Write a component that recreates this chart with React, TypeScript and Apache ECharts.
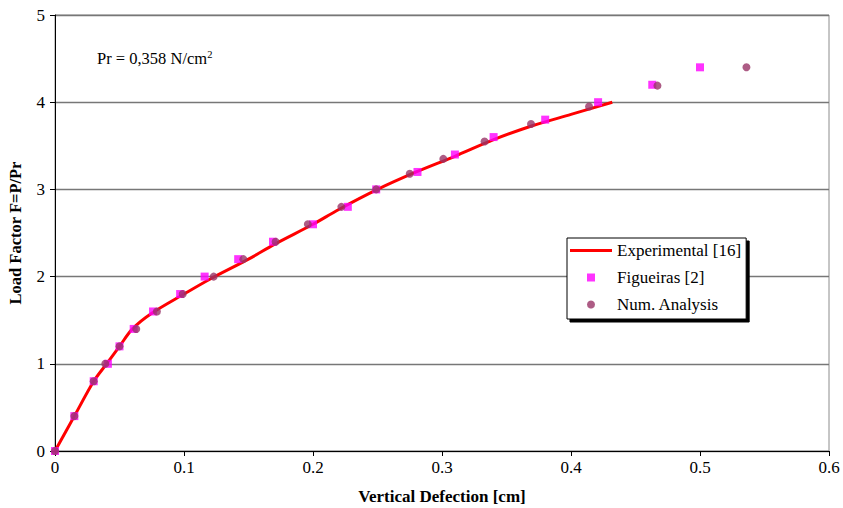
import React, { useEffect, useRef } from "react";
import * as echarts from "echarts";

const expX = [0, 0.015, 0.03, 0.04, 0.05, 0.06, 0.075, 0.1, 0.12, 0.15, 0.17, 0.2, 0.22, 0.25, 0.28, 0.31, 0.34, 0.37, 0.4, 0.432];
const expY = [0, 0.4, 0.8, 1.0, 1.2, 1.4, 1.58, 1.8, 1.97, 2.2, 2.37, 2.6, 2.77, 3.0, 3.2, 3.38, 3.57, 3.73, 3.86, 4.0];

const figX = [0, 0.015, 0.03, 0.041, 0.05, 0.061, 0.076, 0.097, 0.116, 0.142, 0.169, 0.2, 0.227, 0.249, 0.281, 0.31, 0.34, 0.38, 0.421, 0.463, 0.5];
const figY = [0, 0.4, 0.8, 1.0, 1.2, 1.4, 1.6, 1.8, 2.0, 2.2, 2.4, 2.6, 2.8, 3.0, 3.2, 3.4, 3.6, 3.8, 4.0, 4.2, 4.4];

const numX = [0, 0.015, 0.03, 0.039, 0.05, 0.063, 0.079, 0.099, 0.123, 0.146, 0.171, 0.196, 0.222, 0.249, 0.275, 0.301, 0.333, 0.369, 0.414, 0.467, 0.536];
const numY = [0, 0.4, 0.8, 1.0, 1.2, 1.4, 1.6, 1.8, 2.0, 2.2, 2.4, 2.6, 2.8, 3.0, 3.18, 3.35, 3.55, 3.75, 3.95, 4.19, 4.4];

const seriesNames = ["Experimental [16]", "Figueiras [2]", "Num. Analysis"];
const FONT = "'Liberation Serif', 'Times New Roman', Times, 'DejaVu Serif', serif";

const zip = (xs: number[], ys: number[]) => xs.map((x, i) => [x, ys[i]]);

export default function App() {
  const ref = useRef<HTMLDivElement>(null);
  useEffect(() => {
    if (!ref.current) return;
    const chart = echarts.init(ref.current, undefined, { renderer: "svg" });
    chart.setOption({
      animation: false,
      backgroundColor: "#fff",
      textStyle: { fontFamily: FONT },
      grid: {
        left: 55,
        right: 14,
        top: 15,
        bottom: 57,
        containLabel: false,
        outerBoundsMode: "none",
        show: true,
        borderColor: "#8c8c8c",
        borderWidth: 1,
      },
      xAxis: {
        type: "value",
        min: 0,
        max: 0.6,
        interval: 0.1,
        name: "Vertical Defection [cm]",
        nameLocation: "middle",
        nameGap: 37,
        nameTextStyle: { fontFamily: FONT, fontWeight: "bold", fontSize: 17, color: "#000" },
        axisLine: { lineStyle: { color: "#000", width: 1 } },
        axisTick: { show: true, length: 5, lineStyle: { color: "#000" } },
        axisLabel: {
          fontFamily: FONT,
          fontSize: 17,
          color: "#000",
          margin: 8,
          formatter: (v: number) => (v === 0 ? "0" : v.toFixed(1)),
        },
        splitLine: { show: false },
      },
      yAxis: {
        type: "value",
        min: 0,
        max: 5,
        interval: 1,
        name: "Load Factor F=P/Pr",
        nameLocation: "middle",
        nameRotate: 90,
        nameGap: 31,
        nameTextStyle: { fontFamily: FONT, fontWeight: "bold", fontSize: 16.5, color: "#000" },
        axisLine: { show: true, lineStyle: { color: "#000", width: 1 } },
        axisTick: { show: true, length: 5, lineStyle: { color: "#000" } },
        axisLabel: { fontFamily: FONT, fontSize: 17, color: "#000", margin: 10 },
        splitLine: { show: true, lineStyle: { color: "#777", width: 1.3 } },
      },
      legend: {
        orient: "vertical",
        left: 567,
        top: 238,
        padding: [4, 5, 6, 3],
        itemGap: 10,
        itemWidth: 42,
        itemHeight: 8,
        backgroundColor: "#fff",
        borderColor: "#000",
        borderWidth: 1,
        borderRadius: 0,
        shadowColor: "#000",
        shadowBlur: 0,
        shadowOffsetX: 3,
        shadowOffsetY: 3,
        textStyle: { fontFamily: FONT, fontSize: 17, color: "#000" },
        data: [
          { name: seriesNames[0], icon: "path://M0,0H42V3H0Z" },
          { name: seriesNames[1], icon: "path://M0,0H8V8H0Z" },
          { name: seriesNames[2], icon: "circle" },
        ],
      },
      graphic: [
        {
          type: "text",
          left: 97,
          top: 49,
          style: {
            rich: {
              a: { fontFamily: FONT, fontSize: 16.5, fill: "#000" },
              s: { fontFamily: FONT, fontSize: 10.5, fill: "#000", verticalAlign: "top", padding: [0, 0, 7, 0] },
            },
            text: "{a|Pr = 0,358 N/cm}{s|2}",
          },
        },
      ],
      series: [
        {
          name: seriesNames[0],
          type: "line",
          data: zip(expX, expY),
          smooth: 0.3,
          symbol: "none",
          lineStyle: { color: "#ff0000", width: 3 },
          itemStyle: { color: "#ff0000" },
          z: 2,
        },
        {
          name: seriesNames[1],
          type: "scatter",
          data: zip(figX, figY),
          symbol: "rect",
          symbolSize: 8,
          itemStyle: { color: "#ff00ff" },
          z: 3,
        },
        {
          name: seriesNames[2],
          type: "scatter",
          data: zip(numX, numY),
          symbol: "circle",
          symbolSize: 8,
          itemStyle: { color: "#993366" },
          z: 4,
        },
      ],
    });
    return () => chart.dispose();
  }, []);
  return <div ref={ref} style={{ width: 843, height: 508, position: "absolute", left: 0, top: 0 }} />;
}
